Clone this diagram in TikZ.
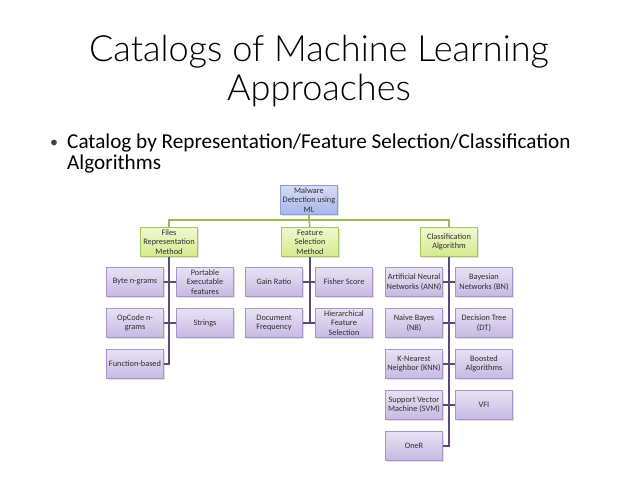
\documentclass[tikz,border=0pt]{standalone}
\usepackage{fontspec}
\setmainfont{Carlito}
\newfontfamily\titlefont{Lato Light}
\usetikzlibrary{shadows}
\definecolor{gline}{HTML}{9BBB59}
\definecolor{pline}{HTML}{5F497A}
\definecolor{gtop}{HTML}{F0F8D0}
\definecolor{gbot}{HTML}{D4EA8E}
\definecolor{gbord}{HTML}{A9C463}
\definecolor{ptop}{HTML}{E8E2F4}
\definecolor{pbot}{HTML}{C6B9E2}
\definecolor{pbord}{HTML}{A796CC}
\definecolor{btop}{HTML}{D4DCF6}
\definecolor{bbot}{HTML}{A7B6EA}
\definecolor{bbord}{HTML}{8C9ED6}
\definecolor{btext}{HTML}{2E2E2E}
\tikzset{
  box/.style={rectangle, minimum width=57pt, minimum height=29pt, inner sep=0.5pt,
    align=center, text=btext, font=\fontsize{8.3}{9.6}\selectfont, line width=0.6pt,
    drop shadow={opacity=0.25, shadow xshift=1pt, shadow yshift=-1.2pt}},
  bluebox/.style={box, draw=bbord, top color=btop, bottom color=bbot},
  greenbox/.style={box, draw=gbord, top color=gtop, bottom color=gbot},
  purplebox/.style={box, draw=pbord, top color=ptop, bottom color=pbot},
  gconn/.style={draw=gline, line width=1.5pt},
  pconn/.style={draw=pline, line width=1.8pt},
  titletext/.style={anchor=base, font=\titlefont\fontsize{36.1}{40}\selectfont},
  bullettext/.style={anchor=base west, font=\fontsize{21.2}{24}\selectfont, inner sep=0pt},
}
\begin{document}
\begin{tikzpicture}[x=1pt,y=-1pt]
\useasboundingbox[fill=white] (0,0) rectangle (638,479);
% title
\node[titletext] (t1) at (319,61) {Catalogs of Machine Learning};
\node[titletext] (t2) at (319,100) {Approaches};
\node[bullettext] (b1) at (67,148) {Catalog by Representation/Feature Selection/Classification};
\node[bullettext] (b2) at (67,169) {Algorithms};
\node[anchor=base, font=\fontsize{16}{21}\selectfont, text=black!75, inner sep=0pt] (bul) at (54,147) {•};
% level 1
\node[bluebox] (mal) at (309,200) {Malware\\Detection using\\ML};
% level 2
\node[greenbox] (files) at (169,242) {Files\\Representation\\Method};
\node[greenbox] (feat) at (310,242) {Feature\\Selection\\Method};
\node[greenbox] (cls) at (449,242) {Classification\\Algorithm};
% files group
\node[purplebox] (byte) at (135,282) {Byte n-grams};
\node[purplebox] (pe) at (205,282) {Portable\\Executable\\features};
\node[purplebox] (opc) at (135,323) {OpCode n-\\grams};
\node[purplebox] (str) at (205,323) {Strings};
\node[purplebox] (func) at (135,364) {Function-based};
% feature group
\node[purplebox] (gain) at (274,282) {Gain Ratio};
\node[purplebox] (fisher) at (344,282) {Fisher Score};
\node[purplebox] (doc) at (274,323) {Document\\Frequency};
\node[purplebox] (hier) at (344,323) {Hierarchical\\Feature\\Selection};
% classification group
\node[purplebox] (ann) at (414,282) {Artificial Neural\\Networks (ANN)};
\node[purplebox] (bn) at (484,282) {Bayesian\\Networks (BN)};
\node[purplebox] (nb) at (414,323) {Naive Bayes\\(NB)};
\node[purplebox] (dt) at (484,323) {Decision Tree\\(DT)};
\node[purplebox] (knn) at (414,364) {K-Nearest\\Neighbor (KNN)};
\node[purplebox] (boost) at (484,364) {Boosted\\Algorithms};
\node[purplebox] (svm) at (414,405) {Support Vector\\Machine (SVM)};
\node[purplebox] (vfi) at (484,405) {VFI};
\node[purplebox] (oner) at (414,446) {OneR};
% green connectors
\coordinate (bus) at (309,220);
\draw[gconn] (mal.south) -- (bus);
\draw[gconn] (files.north) |- (bus) -| (cls.north);
\draw[gconn] (bus) -- (feat.north);
% purple connectors
\draw[pconn] (files.south) -- (files.south |- func.east) -- (func.east);
\draw[pconn] (byte.east) -- (pe.west);
\draw[pconn] (opc.east) -- (str.west);
\draw[pconn] (feat.south) -- (feat.south |- doc.east) -- (doc.east);
\draw[pconn] (gain.east) -- (fisher.west);
\draw[pconn] (doc.east) -- (hier.west);
\draw[pconn] (cls.south) -- (cls.south |- oner.east) -- (oner.east);
\draw[pconn] (ann.east) -- (bn.west);
\draw[pconn] (nb.east) -- (dt.west);
\draw[pconn] (knn.east) -- (boost.west);
\draw[pconn] (svm.east) -- (vfi.west);
\end{tikzpicture}
\end{document}
